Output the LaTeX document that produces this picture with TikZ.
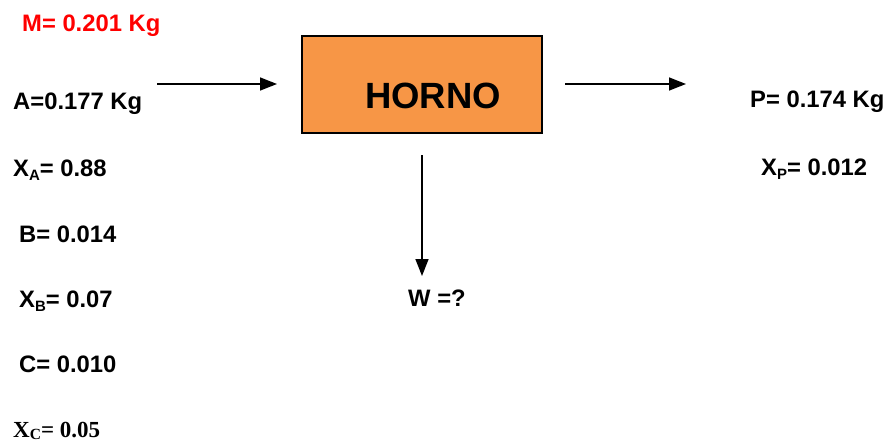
\documentclass[tikz,border=0pt]{standalone}
\usepackage{fontspec}
\setmainfont{Liberation Sans}
\newfontfamily\serifbf{Liberation Serif}
\usetikzlibrary{arrows.meta}
\definecolor{hornoorange}{HTML}{F79646}
\definecolor{mred}{HTML}{FF0000}
\newcommand{\lbl}{\fontsize{23.8}{26}\selectfont\bfseries}
\newcommand{\subs}[1]{\raisebox{-0.18em}{\fontsize{15}{15}\selectfont #1}}
\begin{document}
\begin{tikzpicture}[x=1pt,y=-1pt,
  txt/.style={anchor=base west,inner sep=0pt,font=\lbl},
  flow/.style={line width=1.5pt,-{Triangle[length=17pt,width=13pt]}},
  boxst/.style={draw=black,line width=1.8pt,fill=hornoorange,minimum width=240pt,minimum height=97pt,inner sep=0pt}]
\useasboundingbox (0,0) rectangle (887,444);
\node[boxst] (horno) at (422,84.5) {};
\node[anchor=base west,inner sep=0pt,font=\fontsize{36.5}{40}\selectfont\bfseries] (hornot) at (365,109) {HORNO};
\node[txt,text=mred] (m) at (22,32) {M= 0.201 Kg};
\node[txt] (a) at (13,110) {A=0.177 Kg};
\node[txt] (xa) at (13,176) {X\subs{A}= 0.88};
\node[txt] (b) at (19,242) {B= 0.014};
\node[txt] (xb) at (19,307) {X\subs{B}= 0.07};
\node[txt] (c) at (19,372) {C= 0.010};
\node[anchor=base west,inner sep=0pt,font=\serifbf\fontsize{23}{26}\selectfont\bfseries] (xc) at (13,437) {X\raisebox{-0.1em}{\fontsize{15.5}{15}\selectfont C}= 0.05};
\node[txt] (p) at (750,107) {P= 0.174 Kg};
\node[txt] (xp) at (761,175) {X\subs{P}= 0.012};
\node[txt] (w) at (408,306) {W =?};
\coordinate (inA) at (157,84);
\coordinate (inB) at (277,84);
\coordinate (outA) at (565,84);
\coordinate (outB) at (686,84);
\coordinate (dnA) at (422,155);
\coordinate (dnB) at (422,276);
\draw[flow] (inA) -- (inB);
\draw[flow] (outA) -- (outB);
\draw[flow] (dnA) -- (dnB);
\end{tikzpicture}
\end{document}
